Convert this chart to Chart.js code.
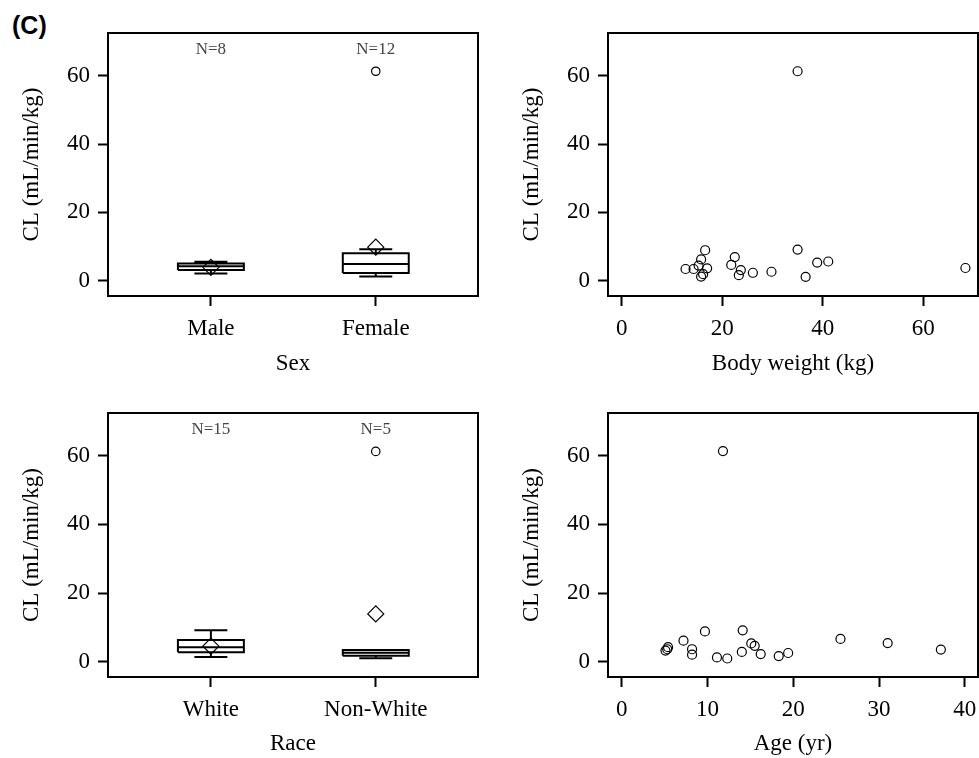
<!DOCTYPE html>
<html>
<head>
<meta charset="utf-8">
<script src="https://cdn.jsdelivr.net/npm/chart.js@4.4.1/dist/chart.umd.min.js"></script>
<style>
  html, body { margin: 0; padding: 0; background: #fff; }
  body { width: 979px; height: 758px; position: relative; overflow: hidden; }
  .panel { position: absolute; width: 489px; height: 380px; }
  .panel canvas { display: block; }
  #tag { position: absolute; left: 12px; top: 11px; font: bold 25px "Liberation Sans", Arial, sans-serif; color: #000; }
</style>
</head>
<body>
<div id="tag">(C)</div>
<div class="panel" style="left:0;top:0"><canvas id="sexChart" width="489" height="380"></canvas></div>
<div class="panel" style="left:490px;top:0"><canvas id="weightChart" width="489" height="380"></canvas></div>
<div class="panel" style="left:0;top:380px"><canvas id="raceChart" width="489" height="380"></canvas></div>
<div class="panel" style="left:490px;top:380px"><canvas id="ageChart" width="489" height="380"></canvas></div>

<script>
// values
const clTicks = [0, 20, 40, 60];

const sexGroups = ['Male', 'Female'];
const sexN = [8, 12];
const sexLow = [2.1, 1.2];
const sexQ1 = [3.1, 2.2];
const sexMedian = [4.2, 4.9];
const sexQ3 = [5.0, 8.0];
const sexHigh = [5.5, 9.2];
const sexMean = [3.9, 9.8];
const sexOutliers = [[], [61.3]];

const raceGroups = ['White', 'Non-White'];
const raceN = [15, 5];
const raceLow = [1.3, 0.95];
const raceQ1 = [2.7, 1.7];
const raceMedian = [4.2, 2.6];
const raceQ3 = [6.3, 3.4];
const raceHigh = [9.1, 3.4];
const raceMean = [4.5, 13.9];
const raceOutliers = [[], [61.3]];

const weightTicks = [0, 20, 40, 60];
const weightKg = [12.7, 14.3, 15.3, 15.8, 16.6, 17.0, 15.8, 16.2, 21.8, 22.5, 23.7, 23.3, 26.1, 29.8, 35.0, 35.0, 36.6, 38.9, 41.1, 68.4];
const weightCL = [3.4, 3.4, 4.4, 6.2, 8.9, 3.6, 1.2, 1.9, 4.6, 6.9, 3.1, 1.6, 2.3, 2.6, 61.3, 9.1, 1.1, 5.3, 5.6, 3.7];

const ageTicks = [0, 10, 20, 30, 40];
const ageYr = [5.1, 5.3, 5.4, 7.2, 8.2, 8.2, 9.7, 11.1, 11.8, 12.3, 14.1, 14.0, 15.1, 15.5, 16.2, 18.3, 19.4, 25.5, 31.0, 37.2];
const ageCL = [3.2, 3.6, 4.2, 6.1, 3.6, 2.0, 8.8, 1.2, 61.4, 0.9, 9.1, 2.8, 5.3, 4.6, 2.2, 1.6, 2.5, 6.6, 5.4, 3.5];

Chart.defaults.font.family = '"Liberation Serif", "Times New Roman", serif';
Chart.defaults.font.size = 23;
Chart.defaults.color = '#000';

const BOX_HALF = 0.2;
const CAP_HALF = 0.1;

const framePlugin = {
    id: 'frame',
    afterDraw(chart) {
        const { ctx, chartArea: a } = chart;
        ctx.save();
        ctx.strokeStyle = '#000';
        ctx.lineWidth = 2;
        ctx.strokeRect(a.left, a.top, a.right - a.left, a.bottom - a.top);
        const counts = chart.options.plugins.frame && chart.options.plugins.frame.counts;
        if (counts) {
            ctx.font = '17px "Liberation Serif", "Times New Roman", serif';
            ctx.fillStyle = '#444';
            ctx.textAlign = 'center';
            ctx.textBaseline = 'middle';
            counts.forEach((n, i) => {
                ctx.fillText('N=' + n, chart.scales.x.getPixelForValue(i + 1), a.top + 17);
            });
        }
        ctx.restore();
    }
};

// outline, median, whiskers and caps of every box as one broken polyline
function boxLines(low, q1, med, q3, high) {
    const pts = [];
    const gap = { x: null, y: null };
    low.forEach((_, i) => {
        const c = i + 1;
        pts.push({ x: c - BOX_HALF, y: q1[i] }, { x: c + BOX_HALF, y: q1[i] }, { x: c + BOX_HALF, y: q3[i] },
                 { x: c - BOX_HALF, y: q3[i] }, { x: c - BOX_HALF, y: q1[i] }, gap);
        pts.push({ x: c - BOX_HALF, y: med[i] }, { x: c + BOX_HALF, y: med[i] }, gap);
        pts.push({ x: c, y: q3[i] }, { x: c, y: high[i] }, gap);
        pts.push({ x: c - CAP_HALF, y: high[i] }, { x: c + CAP_HALF, y: high[i] }, gap);
        pts.push({ x: c, y: q1[i] }, { x: c, y: low[i] }, gap);
        pts.push({ x: c - CAP_HALF, y: low[i] }, { x: c + CAP_HALF, y: low[i] }, gap);
    });
    return pts;
}

function noPadding(s) {
    s.paddingTop = 0; s.paddingBottom = 0; s.paddingLeft = 0; s.paddingRight = 0;
}

function yScale(axisWidth, titlePad) {
    return {
        type: 'linear',
        min: -4.5,
        max: 72.5,
        afterBuildTicks: (s) => { s.ticks = clTicks.map(v => ({ value: v })); },
        afterFit: (s) => { s.width = axisWidth; noPadding(s); },
        ticks: { padding: 8 },
        grid: { drawOnChartArea: false, drawTicks: true, tickLength: 10, tickWidth: 2, tickColor: '#000' },
        border: { display: false },
        title: { display: true, text: 'CL (mL/min/kg)', padding: { top: titlePad, bottom: 0 } }
    };
}

function xScale(min, max, ticks, label, axisHeight, callback) {
    return {
        type: 'linear',
        min: min,
        max: max,
        afterBuildTicks: (s) => { s.ticks = ticks.map(v => ({ value: v })); },
        afterFit: (s) => { s.height = axisHeight; noPadding(s); },
        ticks: { padding: 9, maxRotation: 0, callback: callback },
        grid: { drawOnChartArea: false, drawTicks: true, tickLength: 10, tickWidth: 2, tickColor: '#000' },
        border: { display: false },
        title: { display: true, text: label, padding: { top: 0, bottom: 2 } }
    };
}

function baseOptions(padRight, x, y, counts) {
    return {
        responsive: false,
        animation: false,
        layout: { autoPadding: false, padding: { top: 33, right: padRight, left: 0, bottom: 0 } },
        plugins: { legend: { display: false }, tooltip: { enabled: false }, frame: { counts: counts } },
        scales: { x: x, y: y }
    };
}

function boxChart(id, groups, counts, low, q1, med, q3, high, mean, outliers, label, axisHeight) {
    const outPts = [];
    outliers.forEach((list, i) => list.forEach(v => outPts.push({ x: i + 1, y: v })));
    new Chart(document.getElementById(id), {
        type: 'scatter',
        data: {
            datasets: [
                {
                    data: boxLines(low, q1, med, q3, high),
                    showLine: true,
                    spanGaps: false,
                    borderColor: '#000',
                    borderWidth: 2,
                    pointRadius: 0,
                    fill: false
                },
                {
                    data: mean.map((v, i) => ({ x: i + 1, y: v })),
                    pointStyle: 'rectRot',
                    pointRadius: 8,
                    borderColor: '#000',
                    borderWidth: 1.2,
                    backgroundColor: 'rgba(0,0,0,0)'
                },
                {
                    data: outPts,
                    pointStyle: 'circle',
                    pointRadius: 4.2,
                    borderColor: '#000',
                    borderWidth: 1.2,
                    backgroundColor: 'rgba(0,0,0,0)'
                }
            ]
        },
        options: baseOptions(11,
            xScale(0.376, 2.62, groups.map((_, i) => i + 1), label, axisHeight, (v) => groups[v - 1]),
            yScale(108, 18), counts),
        plugins: [framePlugin]
    });
}

function scatterChart(id, xs, ys, min, max, ticks, label, axisHeight) {
    new Chart(document.getElementById(id), {
        type: 'scatter',
        data: {
            datasets: [{
                data: xs.map((v, i) => ({ x: v, y: ys[i] })),
                pointStyle: 'circle',
                pointRadius: 4.5,
                borderColor: '#000',
                borderWidth: 1.2,
                backgroundColor: 'rgba(0,0,0,0)'
            }]
        },
        options: baseOptions(1,
            xScale(min, max, ticks, label, axisHeight, (v) => v),
            yScale(118, 28), null),
        plugins: [framePlugin]
    });
}

boxChart('sexChart', sexGroups, sexN, sexLow, sexQ1, sexMedian, sexQ3, sexHigh, sexMean, sexOutliers, 'Sex', 84);
scatterChart('weightChart', weightKg, weightCL, -2.73, 70.9, weightTicks, 'Body weight (kg)', 84);
boxChart('raceChart', raceGroups, raceN, raceLow, raceQ1, raceMedian, raceQ3, raceHigh, raceMean, raceOutliers, 'Race', 83);
scatterChart('ageChart', ageYr, ageCL, -1.6, 41.53, ageTicks, 'Age (yr)', 83);
</script>
</body>
</html>
